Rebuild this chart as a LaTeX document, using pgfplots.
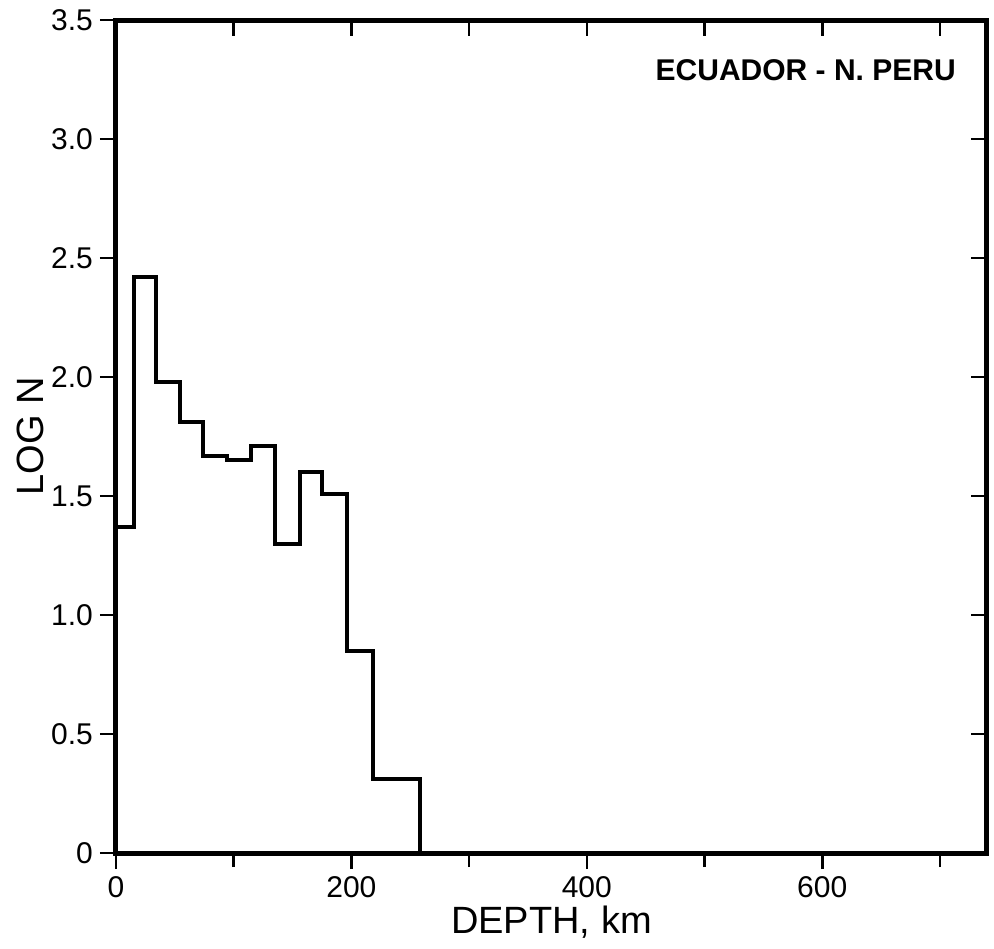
\documentclass[border=0pt]{standalone}
\usepackage{fontspec}
\setmainfont{Liberation Sans}
\usepackage{pgfplots}
\pgfplotsset{compat=1.18}
\begin{document}
\begin{tikzpicture}
\begin{axis}[
  name=main,
  scale only axis, width=435.5pt, height=416.5pt,
  xmin=0, xmax=740, ymin=0, ymax=3.5,
  axis line style={line width=2.5pt},
  xtick={0,200,400,600}, minor xtick={100,300,500,700},
  ytick={0,0.5,1,1.5,2,2.5,3,3.5},
  xticklabels={0,200,400,600},
  yticklabels={0,0.5,1.0,1.5,2.0,2.5,3.0,3.5},
  xtick pos=left, ytick pos=left, tick align=outside,
  major tick length=8pt, minor tick length=7pt,
  every tick/.style={black, line width=1.3pt},
  ticklabel style={font=\fontsize{15}{17}\selectfont},
  /pgf/number format/assume math mode=true,
  xlabel={DEPTH, km}, ylabel={LOG N},
  xlabel style={at={(axis description cs:0.5,-0.083)}, anchor=center, font=\fontsize{19}{22}\selectfont},
  ylabel style={at={(axis description cs:-0.0987,0.5)}, anchor=center, font=\fontsize{19}{22}\selectfont},
  clip=false,
]
\addplot[const plot, black, line width=2pt] coordinates {
 (0,1.37) (15,2.42) (34,1.98) (54,1.81) (74,1.67) (94,1.65) (115,1.71)
 (135,1.30) (156,1.60) (175,1.51) (196,0.85) (218,0.31) (258,0) (740,0)};
\node[font=\bfseries\fontsize{15}{17}\selectfont, anchor=center] at (axis cs:586,3.29) {ECUADOR - N. PERU};
\end{axis}
\begin{axis}[
  scale only axis, width=435.5pt, height=416.5pt,
  xmin=0, xmax=740, ymin=0, ymax=3.5,
  axis line style={draw=none},
  xtick={100,200,300,400,500,600,700},
  ytick={0.5,1,1.5,2,2.5,3},
  xticklabels={}, yticklabels={},
  xtick pos=right, ytick pos=right, tick align=inside,
  major tick length=8pt,
  every tick/.style={black, line width=1.3pt},
]
\end{axis}
\pgfresetboundingbox
\path[use as bounding box] (-58pt,-47.5pt) rectangle (439pt,426.5pt);
\end{tikzpicture}
\end{document}
